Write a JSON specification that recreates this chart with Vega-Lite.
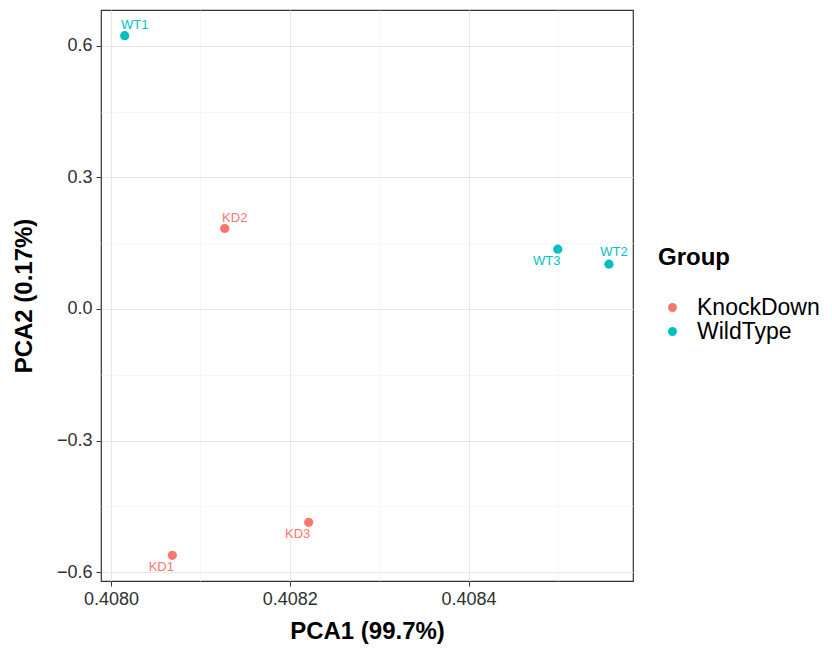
{
  "$schema": "https://vega.github.io/schema/vega-lite/v6.json",
  "width": 532,
  "height": 571,
  "autosize": {"type": "none"},
  "padding": {"left": 101, "top": 10, "right": 199, "bottom": 72},
  "background": "white",
  "config": {
    "font": "Liberation Sans",
    "view": {"stroke": "#333333", "strokeWidth": 1.2},
    "axis": {
      "domain": false,
      "labelFont": "Liberation Sans",
      "titleFont": "Liberation Sans",
      "labelColor": "#303030",
      "titleColor": "#000000",
      "tickColor": "#333333",
      "tickSize": 5,
      "labelOverlap": false,
      "labelFlush": false
    }
  },
  "data": {
    "values": [
      {"sample": "WT1", "Group": "WildType", "PC1": 0.4080153, "PC2": 0.6228},
      {"sample": "WT2", "Group": "WildType", "PC1": 0.4085570, "PC2": 0.1020},
      {"sample": "WT3", "Group": "WildType", "PC1": 0.4084997, "PC2": 0.1362},
      {"sample": "KD1", "Group": "KnockDown", "PC1": 0.4080686, "PC2": -0.5613},
      {"sample": "KD2", "Group": "KnockDown", "PC1": 0.4081272, "PC2": 0.1834},
      {"sample": "KD3", "Group": "KnockDown", "PC1": 0.4082211, "PC2": -0.4861}
    ]
  },
  "encoding": {
    "x": {
      "field": "PC1",
      "type": "quantitative",
      "scale": {"domain": [0.4079888, 0.4085839], "nice": false, "zero": false},
      "axis": {
        "title": "PCA1 (99.7%)",
        "titleFontSize": 24,
        "titleFontWeight": "bold",
        "titlePadding": 11,
        "labelFontSize": 18,
        "labelPadding": 4,
        "values": [0.408, 0.4081, 0.4082, 0.4083, 0.4084, 0.4085],
        "labelExpr": "round(datum.value*10000) % 2 == 1 ? '' : format(datum.value, '.4f')",
        "tickOpacity": {"condition": {"test": "round(datum.value*10000) % 2 == 1", "value": 0}, "value": 1},
        "gridColor": {"condition": {"test": "round(datum.value*10000) % 2 == 1", "value": "#F2F2F2"}, "value": "#E6E6E6"},
        "gridWidth": {"condition": {"test": "round(datum.value*10000) % 2 == 1", "value": 0.7}, "value": 1.1}
      }
    },
    "y": {
      "field": "PC2",
      "type": "quantitative",
      "scale": {"domain": [-0.6198, 0.6813], "nice": false, "zero": false},
      "axis": {
        "title": "PCA2 (0.17%)",
        "titleFontSize": 24,
        "titleFontWeight": "bold",
        "titlePadding": 20,
        "labelFontSize": 18,
        "labelPadding": 4,
        "values": [-0.6, -0.45, -0.3, -0.15, 0, 0.15, 0.3, 0.45, 0.6],
        "labelExpr": "abs(round(datum.value*100)) % 30 == 0 ? format(datum.value, '.1f') : ''",
        "tickOpacity": {"condition": {"test": "abs(round(datum.value*100)) % 30 != 0", "value": 0}, "value": 1},
        "gridColor": {"condition": {"test": "abs(round(datum.value*100)) % 30 != 0", "value": "#F2F2F2"}, "value": "#E6E6E6"},
        "gridWidth": {"condition": {"test": "abs(round(datum.value*100)) % 30 != 0", "value": 0.7}, "value": 1.1}
      }
    },
    "color": {
      "field": "Group",
      "type": "nominal",
      "scale": {"domain": ["KnockDown", "WildType"], "range": ["#F8766D", "#00BFC4"]},
      "legend": {
        "title": "Group",
        "orient": "none",
        "legendX": 557,
        "legendY": 236,
        "padding": 0,
        "titleFontSize": 24,
        "titleFontWeight": "bold",
        "titleColor": "#000000",
        "titlePadding": 26,
        "labelFontSize": 23,
        "labelColor": "#000000",
        "labelOffset": 13,
        "symbolOffset": 3,
        "symbolSize": 80,
        "symbolType": "circle",
        "symbolOpacity": 1,
        "rowPadding": -1
      }
    }
  },
  "layer": [
    {
      "mark": {"type": "point", "filled": true, "size": 85, "opacity": 1, "shape": "circle"}
    },
    {
      "transform": [{"filter": "datum.sample == 'WT1' || datum.sample == 'KD2'"}],
      "mark": {"type": "text", "fontSize": 13, "dx": 10, "dy": -11, "align": "center", "baseline": "middle"},
      "encoding": {"text": {"field": "sample"}}
    },
    {
      "transform": [{"filter": "datum.sample == 'WT3' || datum.sample == 'KD3' || datum.sample == 'KD1'"}],
      "mark": {"type": "text", "fontSize": 13, "dx": -11, "dy": 12, "align": "center", "baseline": "middle"},
      "encoding": {"text": {"field": "sample"}}
    },
    {
      "transform": [{"filter": "datum.sample == 'WT2'"}],
      "mark": {"type": "text", "fontSize": 13, "dx": 5, "dy": -12, "align": "center", "baseline": "middle"},
      "encoding": {"text": {"field": "sample"}}
    }
  ]
}
